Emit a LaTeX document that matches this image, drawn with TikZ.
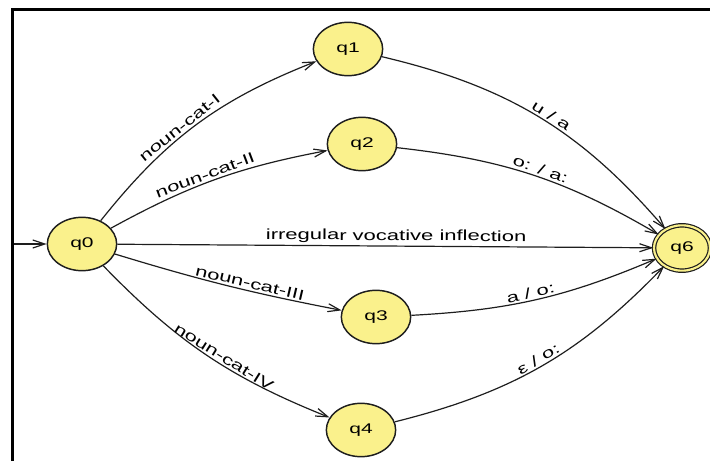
\documentclass[tikz,border=0pt]{standalone}
\usepackage{fontspec}
\setmainfont{Liberation Sans}
\usepackage{graphicx}
\usetikzlibrary{arrows.meta,shapes.geometric}
\definecolor{stfill}{RGB}{250,241,140}
\definecolor{ln}{RGB}{30,30,30}
\newcommand{\widetxt}[1]{\scalebox{1.5}[1]{#1}}
\tikzset{
  st/.style={ellipse,draw=ln,line width=1.1pt,fill=stfill,minimum width=52pt,minimum height=40pt,inner sep=0pt,font=\fontsize{10.5}{12}\selectfont},
  fin/.style={st,minimum width=42pt,minimum height=34pt,double=stfill,double distance=1.6pt,line width=0.9pt},
  tr/.style={draw=ln,line width=0.9pt,-{Straight Barb[length=9pt,width=6pt,line width=0.9pt]}},
  lb/.style={sloped,above,inner sep=1.5pt,font=\fontsize{11}{13}\selectfont}
}
\begin{document}
\begin{tikzpicture}[x=0.75pt,y=0.75pt]
\useasboundingbox (0,0) rectangle (710,461);
\draw[line width=2.25pt] (12,0) -- (12,451) -- (710,451);
\node[st] (q0) at (82,217) {\widetxt{q0}};
\node[st] (q1) at (348,412) {\widetxt{q1}};
\node[st] (q2) at (362,317) {\widetxt{q2}};
\node[st] (q3) at (376,144) {\widetxt{q3}};
\node[st] (q4) at (361,31) {\widetxt{q4}};
\node[fin] (q6) at (682,213) {\widetxt{q6}};
\coordinate (init) at (14,217);
\draw[tr] (init) -- (q0);
\draw[tr] (q0) to[bend left=15] node[lb,pos=0.44] {\widetxt{noun-cat-I}} (q1);
\draw[tr] (q0) to[bend left=9] node[lb,pos=0.46] {\widetxt{noun-cat-II}} (q2);
\draw[tr] (q0) -- node[lb,pos=0.52] {\widetxt{irregular vocative inflection}} (q6);
\draw[tr] (q0) to[bend right=3] node[lb,pos=0.6] {\widetxt{noun-cat-III}} (q3);
\draw[tr] (q0) to[bend right=12] node[lb,pos=0.56] {\widetxt{noun-cat-IV}} (q4);
\draw[tr] (q1) to[bend left=18] node[lb,pos=0.53] {\widetxt{u / a}} (q6);
\draw[tr] (q2) to[bend left=12] node[lb,pos=0.52] {\widetxt{o: / a:}} (q6);
\draw[tr] (q3) to[bend right=10] node[lb,pos=0.48] {\widetxt{a / o:}} (q6);
\draw[tr] (q4) to[bend right=16] node[lb,pos=0.5] {\widetxt{ε / o:}} (q6);
\end{tikzpicture}
\end{document}
